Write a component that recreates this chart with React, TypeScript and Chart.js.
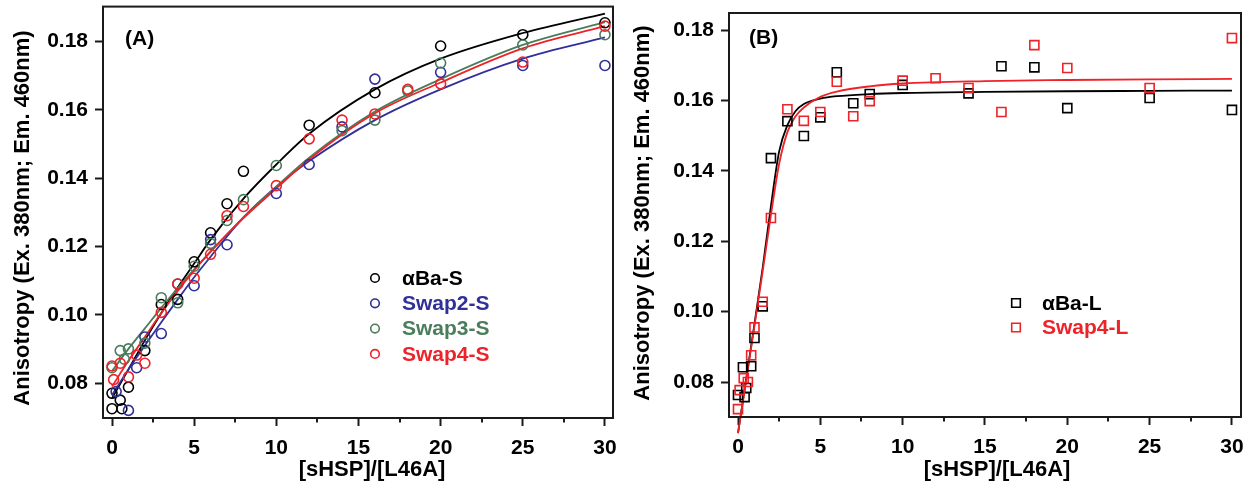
import React, { useEffect, useRef } from 'react';
import { Chart, registerables } from 'chart.js';

Chart.register(...registerables);

const FONT = "'Liberation Sans', Arial, Helvetica, sans-serif";
const AXIS = '#1a1a1a';
const BLACK = '#000000';
const BLUE = '#30309a';
const GREEN = '#4a7d5c';
const RED = '#ee2229';

// ---------- shared ticks ----------
const xTicks = [0, 5, 10, 15, 20, 25, 30];
const xMinorTicks = [2.5, 7.5, 12.5, 17.5, 22.5, 27.5];
const yTicks = [0.08, 0.1, 0.12, 0.14, 0.16, 0.18];

// ---------- Panel A : measured points ----------
const aBlackX = [0, 0, 0.5, 0.6, 1, 2, 3, 4, 5, 6, 7, 8, 12, 16, 20, 25, 30];
const aBlackY = [0.0725, 0.077, 0.075, 0.0725, 0.0788, 0.0895, 0.103, 0.1045, 0.1155, 0.124, 0.1325, 0.142, 0.1555, 0.165, 0.1787, 0.182, 0.1855];

const aBlueX = [0.25, 1, 1.5, 2, 3, 4, 5, 6, 7, 10, 12, 14, 16, 20, 25, 30];
const aBlueY = [0.0775, 0.072, 0.0845, 0.0935, 0.0945, 0.109, 0.1085, 0.122, 0.1205, 0.1355, 0.144, 0.155, 0.169, 0.171, 0.173, 0.173];

const aGreenX = [0, 0.5, 0.75, 1, 2, 3, 4, 5, 6, 7, 8, 10, 14, 16, 18, 20, 25, 30];
const aGreenY = [0.0845, 0.0895, 0.087, 0.09, 0.0917, 0.105, 0.1035, 0.1142, 0.1209, 0.1276, 0.1337, 0.1437, 0.1539, 0.157, 0.1655, 0.1737, 0.179, 0.182];

const aRedX = [0, 0.1, 0.5, 1, 1.5, 2, 3, 4, 5, 6, 7, 8, 10, 12, 14, 16, 18, 20, 25, 30];
const aRedY = [0.085, 0.081, 0.0858, 0.0818, 0.0882, 0.0858, 0.1007, 0.109, 0.1107, 0.1177, 0.129, 0.1317, 0.1378, 0.1515, 0.157, 0.1588, 0.166, 0.1676, 0.174, 0.1845];

// ---------- Panel A : fitted curves ----------
const aFitX = [0, 1, 2, 3, 4, 5, 6, 8, 10, 12, 16, 20, 25, 30];
const aFitBlack = [0.0755, 0.084, 0.0925, 0.1005, 0.108, 0.115, 0.122, 0.134, 0.144, 0.153, 0.166, 0.175, 0.1825, 0.1882];
const aFitBlue = [0.0765, 0.084, 0.091, 0.0978, 0.1045, 0.111, 0.117, 0.1285, 0.1375, 0.145, 0.157, 0.166, 0.175, 0.1812];
const aFitGreen = [0.0835, 0.09, 0.096, 0.102, 0.1078, 0.1133, 0.1185, 0.1285, 0.1375, 0.146, 0.1595, 0.169, 0.179, 0.1857];
const aFitRed = [0.079, 0.0865, 0.0935, 0.1005, 0.107, 0.113, 0.1185, 0.1283, 0.137, 0.1455, 0.159, 0.168, 0.178, 0.1845];

// ---------- Panel B : measured points ----------
const bBlackX = [0, 0.3, 0.4, 0.5, 0.8, 1, 1.5, 2, 3, 4, 5, 6, 7, 8, 10, 14, 16, 18, 20, 25, 30];
const bBlackY = [0.0763, 0.0842, 0.0757, 0.0783, 0.0845, 0.0925, 0.1015, 0.1436, 0.1541, 0.1499, 0.1552, 0.168, 0.1592, 0.1618, 0.1644, 0.162, 0.1697, 0.1694, 0.1578, 0.1607, 0.1573];

const bRedX = [0, 0.1, 0.35, 0.6, 0.8, 1, 1.5, 2, 3, 4, 5, 6, 7, 8, 10, 12, 14, 16, 18, 20, 25, 30];
const bRedY = [0.0723, 0.0777, 0.0811, 0.08, 0.0876, 0.0955, 0.1028, 0.1266, 0.1575, 0.1542, 0.1567, 0.1653, 0.1555, 0.1598, 0.1656, 0.1663, 0.1635, 0.1567, 0.1757, 0.1692, 0.1635, 0.1777];

// ---------- Panel B : fitted curves ----------
const bFitX = [0, 0.5, 1, 1.5, 2, 2.5, 3, 3.5, 4, 5, 6, 8, 10, 15, 20, 25, 30];
const bFitBlack = [0.0655, 0.081, 0.0965, 0.1125, 0.13, 0.1455, 0.153, 0.157, 0.159, 0.1605, 0.1612, 0.1618, 0.1621, 0.1624, 0.1626, 0.1627, 0.1628];
const bFitRed = [0.0655, 0.0805, 0.096, 0.1115, 0.1275, 0.142, 0.151, 0.1555, 0.158, 0.161, 0.1625, 0.164, 0.1648, 0.1655, 0.1658, 0.166, 0.1661];

const legendA = [
  { text: 'αBa-S', color: BLACK },
  { text: 'Swap2-S', color: BLUE },
  { text: 'Swap3-S', color: GREEN },
  { text: 'Swap4-S', color: RED },
];
const legendB = [
  { text: 'αBa-L', color: BLACK },
  { text: 'Swap4-L', color: RED },
];

const X_TITLE = '[sHSP]/[L46A]';
const Y_TITLE = 'Anisotropy (Ex. 380nm; Em. 460nm)';

function pts(xs: number[], ys: number[]) {
  return xs.map((x, i) => ({ x, y: ys[i] }));
}

function scatterSet(xs: number[], ys: number[], color: string, style: string, radius: number) {
  return {
    data: pts(xs, ys),
    showLine: false,
    pointStyle: style,
    pointRadius: radius,
    pointBorderWidth: 1.6,
    pointBorderColor: color,
    pointBackgroundColor: 'rgba(0,0,0,0)',
    borderColor: color,
    backgroundColor: 'rgba(0,0,0,0)',
  };
}

function curveSet(xs: number[], ys: number[], color: string, clip: boolean) {
  return {
    data: pts(xs, ys),
    showLine: true,
    pointRadius: 0,
    borderColor: color,
    borderWidth: 1.8,
    cubicInterpolationMode: 'monotone',
    fill: false,
    clip: clip ? undefined : false,
  };
}

function decorPlugin(cfg: any) {
  return {
    id: 'decor',
    afterDraw(chart: any) {
      const { ctx, chartArea: a, scales } = chart;
      ctx.save();
      ctx.strokeStyle = AXIS;
      ctx.lineWidth = 2;
      ctx.strokeRect(a.left, a.top, a.right - a.left, a.bottom - a.top);
      const xs = scales.x;
      xMinorTicks.forEach((v) => {
        const px = Math.round(xs.getPixelForValue(v));
        ctx.beginPath();
        ctx.moveTo(px, a.bottom);
        ctx.lineTo(px, a.bottom + 4.5);
        ctx.stroke();
      });
      ctx.fillStyle = '#000';
      ctx.font = `bold 22px ${FONT}`;
      ctx.textAlign = 'center';
      ctx.textBaseline = 'middle';
      ctx.fillText(X_TITLE, cfg.xTitleX, cfg.xTitleY);
      ctx.save();
      ctx.translate(cfg.yTitleX, cfg.yTitleY);
      ctx.rotate(-Math.PI / 2);
      ctx.fillText(Y_TITLE, 0, 0);
      ctx.restore();
      ctx.font = `bold 21px ${FONT}`;
      ctx.textAlign = 'left';
      ctx.fillText(cfg.label, cfg.labelX, cfg.labelY);
      cfg.legend.forEach((item: any, i: number) => {
        const y = cfg.legendY + i * cfg.legendGap;
        ctx.strokeStyle = item.color;
        ctx.lineWidth = 1.6;
        ctx.beginPath();
        if (cfg.marker === 'circle') {
          ctx.arc(cfg.legendMarkX, y, 4.3, 0, Math.PI * 2);
        } else {
          ctx.rect(cfg.legendMarkX - 4.3, y - 4.3, 8.6, 8.6);
        }
        ctx.stroke();
        ctx.fillStyle = item.color;
        ctx.fillText(item.text, cfg.legendTextX, y + 1);
      });
      ctx.restore();
    },
  };
}

function makeConfig(p: any) {
  const tickFont = { family: FONT, size: 21, weight: 'bold' };
  return {
    type: 'scatter',
    data: { datasets: p.datasets },
    options: {
      animation: false,
      responsive: false,
      devicePixelRatio: 1,
      events: [],
      layout: { padding: { left: 0, top: p.top, right: p.right, bottom: 0 } },
      plugins: { legend: { display: false }, tooltip: { enabled: false } },
      scales: {
        x: {
          type: 'linear',
          min: p.xmin,
          max: p.xmax,
          afterFit: (s: any) => {
            s.height = p.xh;
            s.paddingLeft = 0;
            s.paddingRight = 0;
            s.paddingTop = 0;
            s.paddingBottom = 0;
          },
          afterBuildTicks: (s: any) => { s.ticks = xTicks.map((v) => ({ value: v })); },
          grid: { drawOnChartArea: false, drawTicks: true, tickLength: 8, tickWidth: 2, tickColor: AXIS },
          border: { display: false },
          ticks: {
            font: tickFont, color: '#000', padding: 10, maxRotation: 0, autoSkip: false,
            callback: (v: any) => String(Math.round(Number(v))),
          },
        },
        y: {
          type: 'linear',
          min: p.ymin,
          max: p.ymax,
          afterFit: (s: any) => {
            s.width = p.yw;
            s.paddingLeft = 0;
            s.paddingRight = 0;
            s.paddingTop = 0;
            s.paddingBottom = 0;
          },
          afterBuildTicks: (s: any) => { s.ticks = yTicks.map((v) => ({ value: v })); },
          grid: { drawOnChartArea: false, drawTicks: true, tickLength: 8, tickWidth: 2, tickColor: AXIS },
          border: { display: false },
          ticks: {
            font: tickFont, color: '#000', padding: 7, autoSkip: false,
            callback: (v: any) => Number(v).toFixed(2),
          },
        },
      },
    },
    plugins: [decorPlugin(p.decor)],
  };
}

const configA = () =>
  makeConfig({
    top: 6, right: 12, xh: 74, yw: 103,
    xmin: -0.548, xmax: 30.49, ymin: 0.06977, ymax: 0.19023,
    datasets: [
      scatterSet(aRedX, aRedY, RED, 'circle', 5),
      scatterSet(aGreenX, aGreenY, GREEN, 'circle', 5),
      scatterSet(aBlueX, aBlueY, BLUE, 'circle', 5),
      scatterSet(aBlackX, aBlackY, BLACK, 'circle', 5),
      curveSet(aFitX, aFitRed, RED, true),
      curveSet(aFitX, aFitGreen, GREEN, true),
      curveSet(aFitX, aFitBlue, BLUE, true),
      curveSet(aFitX, aFitBlack, BLACK, true),
    ],
    decor: {
      xTitleX: 372, xTitleY: 470, yTitleX: 23, yTitleY: 218,
      label: '(A)', labelX: 125, labelY: 39,
      legend: legendA, marker: 'circle', legendMarkX: 375, legendTextX: 402, legendY: 278, legendGap: 25.3,
    },
  });

const configB = () =>
  makeConfig({
    top: 13, right: 15, xh: 75, yw: 104,
    xmin: -0.547, xmax: 30.55, ymin: 0.07006, ymax: 0.18483,
    datasets: [
      scatterSet(bRedX, bRedY, RED, 'rect', 6.4),
      scatterSet(bBlackX, bBlackY, BLACK, 'rect', 6.4),
      curveSet(bFitX, bFitRed, RED, false),
      curveSet(bFitX, bFitBlack, BLACK, false),
    ],
    decor: {
      xTitleX: 372, xTitleY: 470, yTitleX: 18, yTitleY: 213,
      label: '(B)', labelX: 124, labelY: 38,
      legend: legendB, marker: 'rect', legendMarkX: 391, legendTextX: 417, legendY: 303, legendGap: 24.5,
    },
  });

function Panel({ left, width, config }: { left: number; width: number; config: () => any }) {
  const ref = useRef<HTMLCanvasElement | null>(null);
  useEffect(() => {
    const chart = new Chart(ref.current as HTMLCanvasElement, config() as any);
    return () => chart.destroy();
  }, []);
  return (
    <canvas
      ref={ref}
      width={width}
      height={492}
      style={{ position: 'absolute', left, top: 0, width, height: 492, display: 'block' }}
    />
  );
}

export default function App() {
  return (
    <div style={{ position: 'fixed', left: 0, top: 0, width: 1256, height: 492, background: '#ffffff', overflow: 'hidden' }}>
      <Panel left={0} width={625} config={configA} />
      <Panel left={625} width={631} config={configB} />
    </div>
  );
}
